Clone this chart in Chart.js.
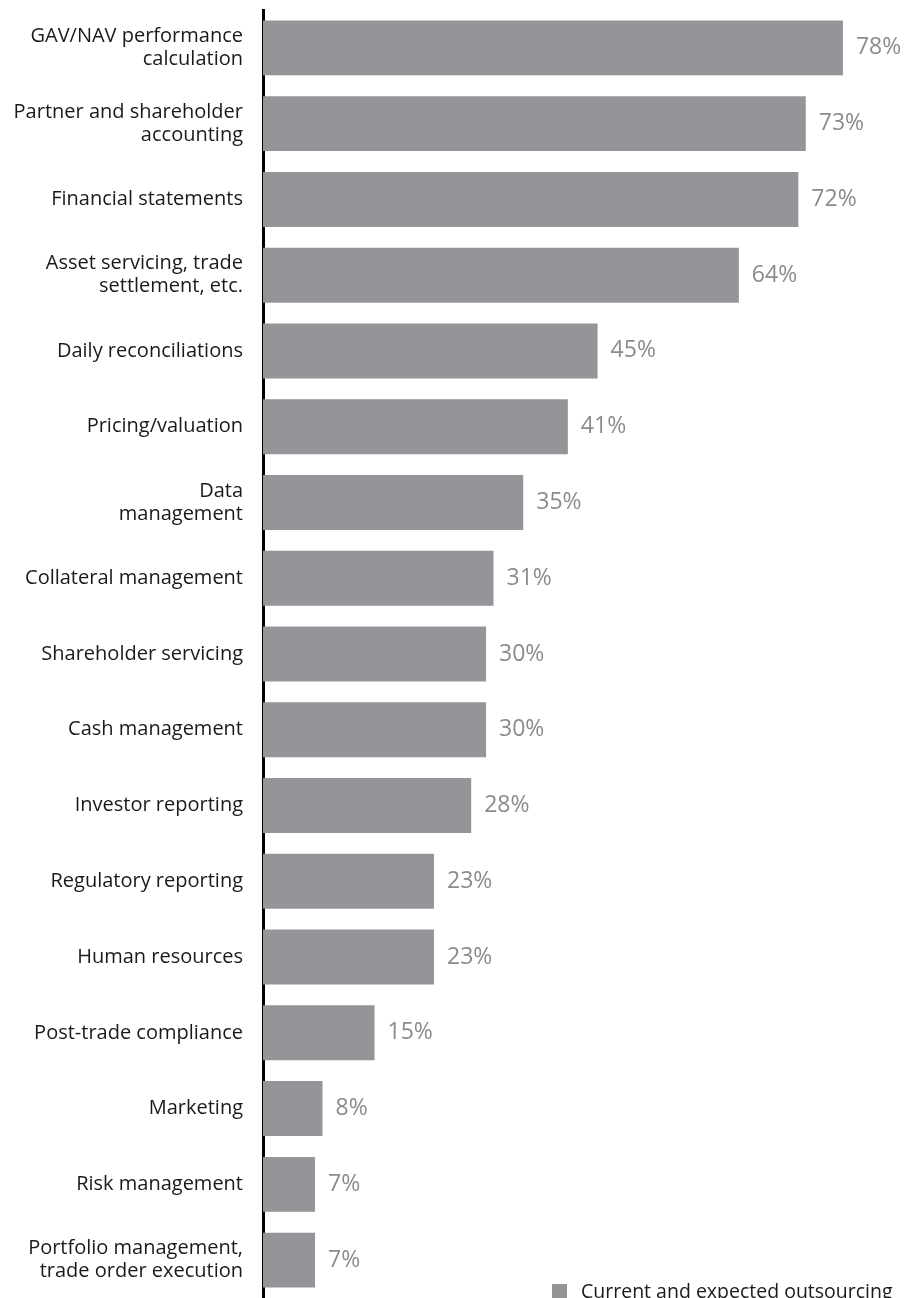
<!DOCTYPE html>
<html>
<head>
<meta charset="utf-8">
<script src="https://cdn.jsdelivr.net/npm/chart.js@4"></script>
<style>
    html, body { margin: 0; padding: 0; background: #fff; overflow: hidden; }
    #wrap { position: relative; width: 908px; height: 1298px; }
    canvas { display: block; }
    #legend {
        position: absolute; left: 552px; top: 1277px;
        font-family: 'Open Sans', sans-serif; font-size: 19.5px; color: #1a1a1a;
        white-space: nowrap;
    }
    #legend span.box {
        display: inline-block; width: 15px; height: 15px; background: #939598;
        margin-right: 14px; vertical-align: -1px;
    }
</style>
</head>
<body>
<div id="wrap">
    <canvas id="outsourcingChart" width="908" height="1298"></canvas>
    <div id="legend"><span class="box"></span>Current and expected outsourcing</div>
</div>
<script>
const categories = [
    ['GAV/NAV performance', 'calculation'],
    ['Partner and shareholder', 'accounting'],
    'Financial statements',
    ['Asset servicing, trade', 'settlement, etc.'],
    'Daily reconciliations',
    'Pricing/valuation',
    ['Data', 'management'],
    'Collateral management',
    'Shareholder servicing',
    'Cash management',
    'Investor reporting',
    'Regulatory reporting',
    'Human resources',
    'Post-trade compliance',
    'Marketing',
    'Risk management',
    ['Portfolio management,', 'trade order execution']
];
const outsourcing = [78, 73, 72, 64, 45, 41, 35, 31, 30, 30, 28, 23, 23, 15, 8, 7, 7];
const seriesLabel = 'Current and expected outsourcing';

// Valeurs en bout de barre
const valueLabels = {
    id: 'valueLabels',
    afterDatasetsDraw(chart) {
        const ctx = chart.ctx;
        const meta = chart.getDatasetMeta(0);
        ctx.save();
        ctx.font = "23px 'Open Sans', sans-serif";
        ctx.fillStyle = '#8a8b8e';
        ctx.textAlign = 'left';
        ctx.textBaseline = 'middle';
        meta.data.forEach((bar, i) => {
            ctx.fillText(outsourcing[i] + '%', bar.x + 13, bar.y);
        });
        ctx.restore();
    }
};

const ctx = document.getElementById('outsourcingChart').getContext('2d');
new Chart(ctx, {
    type: 'bar',
    data: {
        labels: categories,
        datasets: [{
            label: seriesLabel,
            data: outsourcing,
            backgroundColor: '#939598',
            borderWidth: 0,
            categoryPercentage: 0.725,
            barPercentage: 1.0
        }]
    },
    options: {
        indexAxis: 'y',
        responsive: false,
        animation: false,
        layout: { padding: { top: 10, right: 13, bottom: 0, left: 0 } },
        plugins: {
            legend: { display: false },
            tooltip: { enabled: false }
        },
        scales: {
            x: {
                display: false,
                min: 0,
                max: 85
            },
            y: {
                afterFit(scale) {
                    scale.width = 263;
                    scale.paddingTop = 0;
                    scale.paddingBottom = 0;
                },
                grid: { color: 'transparent', drawTicks: false },
                border: { display: true, color: '#000', width: 3 },
                ticks: {
                    padding: 20,
                    color: '#1a1a1a',
                    font: { family: "'Open Sans', sans-serif", size: 20, lineHeight: 1.15 },
                    autoSkip: false
                }
            }
        }
    },
    plugins: [valueLabels]
});
</script>
</body>
</html>
